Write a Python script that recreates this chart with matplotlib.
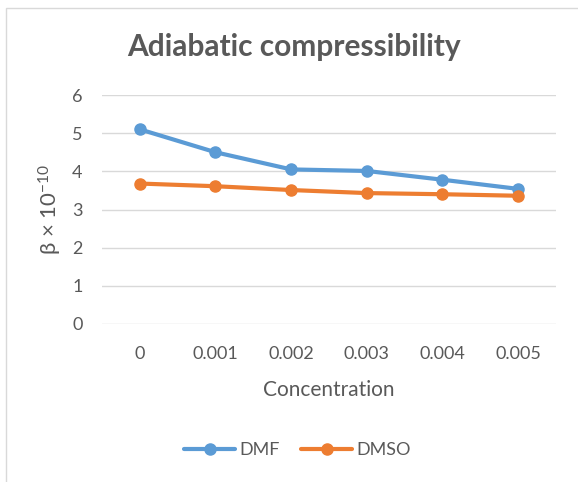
import matplotlib
matplotlib.use("Agg")
import matplotlib.pyplot as plt
from matplotlib.patches import Rectangle

plt.rcParams['font.family'] = ['Lato', 'DejaVu Sans']
plt.rcParams['mathtext.fontset'] = 'custom'
plt.rcParams['mathtext.rm'] = 'Lato'
plt.rcParams['mathtext.it'] = 'Lato:italic'

concentration = ['0', '0.001', '0.002', '0.003', '0.004', '0.005']
dmf = [5.10, 4.50, 4.05, 4.01, 3.78, 3.54]
dmso = [3.68, 3.61, 3.51, 3.43, 3.40, 3.36]

txt = '#595959'
fig = plt.figure(figsize=(5.78, 4.82), dpi=100)
fig.patches.append(Rectangle((6 / 578, -0.1), 1.2, 1 - 8 / 482 + 0.1,
                             transform=fig.transFigure, fill=False,
                             edgecolor='#D9D9D9', linewidth=1))

ax = fig.add_axes([102 / 578, 1 - 324 / 482, 454 / 578, 229 / 482])
x = range(len(concentration))
ax.plot(x, dmf, color='#5B9BD5', lw=3, marker='o', ms=8, label='DMF',
        solid_capstyle='round')
ax.plot(x, dmso, color='#ED7D31', lw=3, marker='o', ms=8, label='DMSO',
        solid_capstyle='round')

ax.set_xlim(-0.5, 5.5)
ax.set_ylim(0, 6)
ax.set_yticks(range(7))
ax.set_xticks(list(x))
ax.set_xticklabels(concentration)
ax.yaxis.grid(True, color='#D9D9D9', lw=1)
ax.set_axisbelow(True)
for s in ax.spines.values():
    s.set_visible(False)
ax.tick_params(length=0, colors=txt, labelsize=13)
ax.tick_params(axis='x', pad=16)
ax.tick_params(axis='y', pad=14)

ax.set_xlabel('Concentration', color=txt, fontsize=15, labelpad=13)
ax.set_ylabel(r'β × 10$^{-10}$', color=txt, fontsize=16, labelpad=6)
fig.text(0.509, 1 - 47 / 482, 'Adiabatic compressibility', ha='center', va='center',
         fontsize=21.5, fontweight='bold', color=txt)

leg = fig.legend(loc='center', bbox_to_anchor=(0.515, 1 - 450 / 482), ncol=2,
                 frameon=False, fontsize=13, handlelength=2.8, columnspacing=1.2,
                 handletextpad=0.25)
for t in leg.get_texts():
    t.set_color(txt)

fig.savefig('out.png', dpi=100)
